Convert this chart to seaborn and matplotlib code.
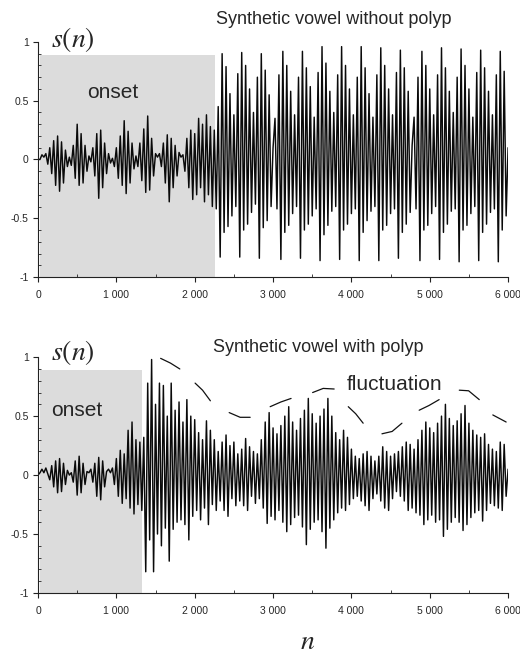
import numpy as np
import pandas as pd
import matplotlib
matplotlib.use("Agg")
import matplotlib.pyplot as plt
import seaborn as sns
from matplotlib.ticker import MultipleLocator

# extrema of the waveform, one value every 25 samples
step = 25

s_without = [
    0.00, 0.00, 0.04, 0.02, 0.05, -0.04, 0.10, -0.12, 0.16, -0.22,
    0.20, -0.27, 0.15, -0.20, 0.08, -0.06, 0.02, -0.05, 0.12, -0.16,
    0.30, -0.22, 0.22, -0.20, 0.12, -0.10, 0.03, -0.02, 0.10, -0.14,
    0.22, -0.33, 0.25, -0.24, 0.14, -0.12, 0.05, -0.03, 0.01, -0.06,
    0.10, -0.16, 0.20, -0.22, 0.33, -0.29, 0.24, -0.20, 0.14, -0.08,
    0.03, -0.06, 0.14, -0.18, 0.26, -0.28, 0.37, -0.26, 0.18, -0.14,
    0.05, 0.02, 0.05, -0.06, 0.14, -0.20, 0.21, -0.36, 0.18, -0.24,
    0.12, -0.14, 0.06, 0.02, 0.04, -0.10, 0.18, -0.24, 0.25, -0.34,
    0.22, -0.30, 0.35, -0.24, 0.30, -0.36, 0.38, -0.30, 0.28, -0.40,
    0.25, -0.42, 0.45, -0.83, 0.90, -0.62, 0.79, -0.57, 0.56, -0.48,
    0.38, -0.40, 0.73, -0.83, 0.91, -0.60, 0.80, -0.55, 0.60, -0.45,
    0.40, -0.38, 0.70, -0.84, 0.90, -0.58, 0.76, -0.52, 0.55, -0.40,
    0.10, 0.35, -0.42, 0.72, -0.85, 0.92, -0.62, 0.80, -0.56, 0.58,
    -0.46, 0.38, -0.40, 0.70, -0.84, 0.92, -0.60, 0.78, -0.55, 0.62,
    -0.48, 0.36, -0.42, 0.74, -0.86, 0.96, -0.64, 0.82, -0.56, 0.58,
    -0.44, 0.40, -0.40, 0.72, -0.85, 0.96, -0.60, 0.80, -0.55, 0.60,
    -0.46, 0.38, -0.42, 0.70, -0.86, 0.96, -0.62, 0.78, -0.52, 0.56,
    -0.44, 0.36, -0.40, 0.72, -0.86, 0.95, -0.60, 0.80, -0.56, 0.60,
    -0.46, 0.38, -0.42, 0.74, -0.84, 0.93, -0.62, 0.78, -0.55, 0.58,
    -0.45, 0.12, 0.36, -0.42, 0.70, -0.86, 0.92, -0.60, 0.80, -0.56,
    0.60, -0.46, 0.38, -0.40, 0.72, -0.85, 0.95, -0.62, 0.78, -0.55,
    0.58, -0.44, 0.40, -0.42, 0.70, -0.87, 0.94, -0.60, 0.80, -0.56,
    0.60, -0.46, 0.36, -0.40, 0.74, -0.86, 0.93, -0.62, 0.78, -0.55,
    0.58, -0.45, 0.38, -0.42, 0.72, -0.87, 0.92, -0.60, 0.75, -0.48,
    0.10,
]

s_with = [
    0.00, 0.02, 0.05, 0.02, 0.06, 0.01, -0.04, 0.08, -0.10, 0.12,
    -0.15, 0.14, -0.14, 0.10, -0.08, 0.04, 0.00, 0.02, -0.06, 0.12,
    -0.17, 0.16, -0.15, 0.10, -0.08, 0.03, 0.02, 0.05, -0.06, 0.10,
    -0.18, 0.15, -0.21, 0.12, -0.10, 0.03, 0.05, 0.02, 0.06, -0.08,
    0.14, -0.18, 0.21, -0.24, 0.18, -0.20, 0.38, -0.28, 0.45, -0.33,
    0.30, -0.25, 0.28, -0.30, 0.32, -0.82, 0.78, -0.55, 0.98, -0.82,
    0.60, -0.50, 0.78, -0.60, 0.76, -0.45, 0.50, -0.73, 0.78, -0.46,
    0.55, -0.40, 0.62, -0.38, 0.45, -0.42, 0.64, -0.55, 0.50, -0.35,
    0.47, -0.30, 0.36, -0.38, 0.30, -0.28, 0.46, -0.42, 0.38, -0.25,
    0.30, -0.30, 0.20, -0.22, 0.28, -0.30, 0.34, -0.35, 0.25, -0.20,
    0.28, -0.26, 0.18, -0.22, 0.22, -0.26, 0.31, -0.30, 0.24, -0.18,
    0.20, -0.24, 0.18, -0.20, 0.30, -0.28, 0.45, -0.41, 0.53, -0.35,
    0.40, -0.38, 0.35, -0.30, 0.42, -0.40, 0.50, -0.48, 0.58, -0.42,
    0.45, -0.36, 0.38, -0.34, 0.48, -0.44, 0.55, -0.59, 0.65, -0.46,
    0.52, -0.40, 0.44, -0.38, 0.50, -0.48, 0.56, -0.62, 0.65, -0.45,
    0.50, -0.38, 0.36, -0.32, 0.30, -0.28, 0.38, -0.30, 0.32, -0.25,
    0.22, -0.20, 0.16, -0.18, 0.14, -0.22, 0.18, -0.26, 0.20, -0.30,
    0.16, -0.20, 0.12, -0.16, 0.16, -0.22, 0.24, -0.28, 0.20, -0.30,
    0.16, -0.20, 0.18, -0.14, 0.20, -0.18, 0.24, -0.22, 0.28, -0.30,
    0.26, -0.28, 0.22, -0.32, 0.30, -0.34, 0.38, -0.42, 0.45, -0.38,
    0.40, -0.34, 0.36, -0.40, 0.44, -0.38, 0.50, -0.52, 0.60, -0.46,
    0.48, -0.40, 0.42, -0.36, 0.46, -0.40, 0.52, -0.47, 0.59, -0.42,
    0.44, -0.36, 0.38, -0.32, 0.34, -0.30, 0.32, -0.39, 0.35, -0.30,
    0.26, -0.24, 0.22, -0.26, 0.20, -0.28, 0.28, -0.30, 0.26, -0.18,
    0.05,
]

# onset region (shaded) for each signal
onset_start = 25
onset_end_without = 2260
onset_end_with = 1325
onset_top = 0.89

# hand drawn "fluctuation" envelope, short strokes
fluct_seg = [1, 1, 1, 2, 2, 2, 3, 3, 3, 4, 4, 4, 5, 5, 5,
             6, 6, 6, 7, 7, 7, 8, 8, 8, 9, 9, 9, 10, 10, 10]
fluct_n = [1565, 1690, 1810, 2005, 2100, 2200, 2440, 2580, 2708,
           2963, 3100, 3230, 3505, 3640, 3780, 3960, 4055, 4150,
           4390, 4520, 4645, 4865, 4990, 5120, 5377, 5496, 5632,
           5805, 5890, 5975]
fluct_s = [0.99, 0.95, 0.90, 0.78, 0.72, 0.63, 0.53, 0.49, 0.49,
           0.58, 0.62, 0.65, 0.70, 0.735, 0.73, 0.58, 0.52, 0.44,
           0.35, 0.37, 0.44, 0.55, 0.59, 0.64, 0.72, 0.715, 0.64,
           0.51, 0.48, 0.45]

x_ticks = [0, 1000, 2000, 3000, 4000, 5000, 6000]
x_labels = ["0", "1 000", "2 000", "3 000", "4 000", "5 000", "6 000"]
y_ticks = [-1, -0.5, 0, 0.5, 1]
y_labels = ["-1", "-0.5", "0", "0.5", "1"]

sns.set_style("ticks")
plt.rcParams["font.family"] = ["Liberation Sans", "DejaVu Sans"]
plt.rcParams["mathtext.fontset"] = "stix"

fig = plt.figure(figsize=(5.2, 6.55), dpi=100)
ax_top = fig.add_axes([0.0731, 0.577, 0.904, 0.359])
ax_bot = fig.add_axes([0.0731, 0.0947, 0.904, 0.360])


def draw_panel(ax, values, onset_end, title, title_xy, onset_xy, sn_y):
    n = np.arange(len(values)) * step
    df = pd.DataFrame({"n": n, "s": values})
    ax.axvspan(onset_start, onset_end, ymin=0, ymax=(onset_top + 1) / 2,
               color="#dcdcdc", lw=0, zorder=0)
    sns.lineplot(data=df, x="n", y="s", ax=ax, color="#0a0a0a",
                 linewidth=1.05, estimator=None, sort=False, zorder=2)
    ax.set_xlim(0, 6000)
    ax.set_ylim(-1, 1)
    ax.set_xlabel("")
    ax.set_ylabel("")
    sns.despine(ax=ax)
    for sp in ["left", "bottom"]:
        ax.spines[sp].set_color("#222222")
        ax.spines[sp].set_linewidth(0.8)
    ax.set_xticks(x_ticks)
    ax.set_xticklabels(x_labels)
    ax.set_yticks(y_ticks)
    ax.set_yticklabels(y_labels)
    ax.xaxis.set_minor_locator(MultipleLocator(500))
    ax.yaxis.set_minor_locator(MultipleLocator(0.1))
    ax.tick_params(which="major", direction="out", length=3.6, width=0.8,
                   labelsize=7.5, color="#222222")
    ax.tick_params(axis="x", which="major", pad=5.5)
    ax.tick_params(axis="y", which="major", pad=3)
    ax.tick_params(which="minor", direction="in", length=2.2, width=0.6,
                   color="#222222")
    ax.text(title_xy[0], title_xy[1], title, fontsize=13, ha="center",
            va="center", clip_on=False)
    ax.text(onset_xy[0], onset_xy[1], "onset", fontsize=15, ha="center",
            va="center")
    ax.text(447, sn_y, r"$s(n)$", fontsize=20, ha="center", va="center",
            clip_on=False)


draw_panel(ax_top, s_without, onset_end_without,
           "Synthetic vowel without polyp", (3780, 1.187), (958, 0.566), 1.02)
draw_panel(ax_bot, s_with, onset_end_with,
           "Synthetic vowel with polyp", (3576, 1.085), (498, 0.55), 1.04)

fl = pd.DataFrame({"seg": fluct_seg, "n": fluct_n, "s": fluct_s})
sns.lineplot(data=fl, x="n", y="s", units="seg", estimator=None,
             ax=ax_bot, color="#111111", linewidth=0.9, sort=False)
ax_bot.set_xlabel("")
ax_bot.set_ylabel("")
ax_bot.text(4547, 0.77, "fluctuation", fontsize=15, ha="center", va="center")

fig.text(308 / 520, 1 - 642 / 655, r"$n$", fontsize=20, ha="center",
         va="center")

fig.savefig("out.png", dpi=100)
